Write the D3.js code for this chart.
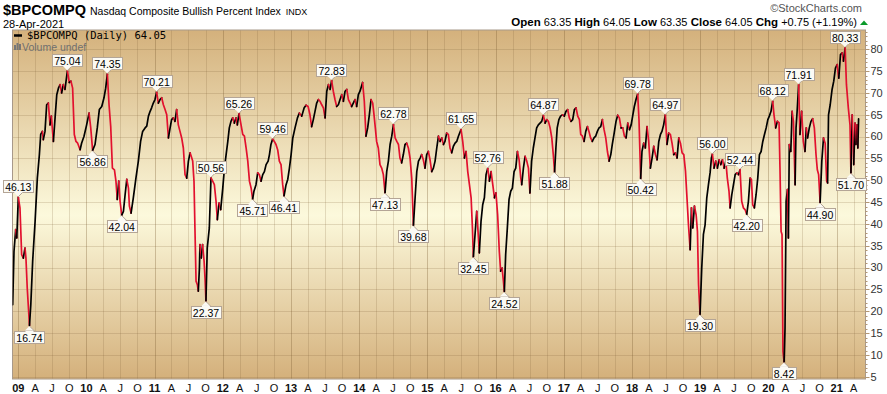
<!DOCTYPE html>
<html>
<head>
<meta charset="utf-8">
<script src="https://cdn.jsdelivr.net/npm/d3@7"></script>
<style>
  body { margin: 0; background: #fff; }
  svg { display: block; font-family: "Liberation Sans", Arial, sans-serif; }
</style>
</head>
<body>
<div id="chart"></div>
<script>
// $BPCOMPQ readings
const dates = [
  '2008-12-02','2008-12-09','2008-12-18','2008-12-24','2009-01-01','2009-01-10','2009-01-19','2009-01-28','2009-02-06','2009-02-11',
  '2009-02-18','2009-03-02','2009-03-09','2009-03-19','2009-04-01','2009-04-13','2009-04-24','2009-05-01','2009-05-10','2009-05-15',
  '2009-05-24','2009-06-02','2009-06-11','2009-06-20','2009-06-27','2009-07-08','2009-07-17','2009-07-26','2009-08-04','2009-08-13',
  '2009-08-21','2009-08-30','2009-09-08','2009-09-21','2009-10-01','2009-10-10','2009-10-19','2009-10-28','2009-11-06','2009-11-15',
  '2009-11-28','2009-12-06','2009-12-19','2010-01-02','2010-01-15','2010-01-24','2010-02-03','2010-02-16','2010-02-28','2010-03-11',
  '2010-03-24','2010-04-05','2010-04-14','2010-04-23','2010-05-02','2010-05-11','2010-05-20','2010-05-31','2010-06-08','2010-06-15',
  '2010-06-23','2010-06-30','2010-07-09','2010-07-18','2010-07-27','2010-08-05','2010-08-14','2010-08-19','2010-08-28','2010-09-09',
  '2010-09-23','2010-10-06','2010-10-18','2010-10-29','2010-11-11','2010-11-20','2010-11-29','2010-12-08','2010-12-16','2010-12-25',
  '2011-01-03','2011-01-12','2011-01-21','2011-01-30','2011-02-08','2011-02-17','2011-02-26','2011-03-07','2011-03-16','2011-03-25',
  '2011-04-02','2011-04-11','2011-04-20','2011-04-29','2011-05-08','2011-05-17','2011-05-26','2011-06-04','2011-06-13','2011-06-22',
  '2011-07-01','2011-07-10','2011-07-19','2011-07-24','2011-07-31','2011-08-05','2011-08-11','2011-08-18','2011-08-23','2011-08-29',
  '2011-09-01','2011-09-08','2011-09-15','2011-09-23','2011-09-28','2011-10-03','2011-10-10','2011-10-21','2011-10-30','2011-11-08',
  '2011-11-17','2011-11-26','2011-12-03','2011-12-12','2011-12-21','2012-01-01','2012-01-10','2012-01-19','2012-01-28','2012-02-05',
  '2012-02-14','2012-02-23','2012-03-03','2012-03-12','2012-03-19','2012-03-28','2012-04-08','2012-04-17','2012-04-26','2012-05-05',
  '2012-05-14','2012-05-23','2012-06-01','2012-06-09','2012-06-16','2012-06-27','2012-07-06','2012-07-15','2012-07-24','2012-08-02',
  '2012-08-11','2012-08-20','2012-08-31','2012-09-07','2012-09-15','2012-09-24','2012-10-03','2012-10-12','2012-10-21','2012-10-30',
  '2012-11-08','2012-11-17','2012-11-24','2012-12-05','2012-12-14','2012-12-23','2013-01-01','2013-01-10','2013-01-22','2013-02-04',
  '2013-02-14','2013-02-27','2013-03-12','2013-03-22','2013-04-02','2013-04-12','2013-04-21','2013-04-30','2013-05-09','2013-05-18',
  '2013-05-27','2013-06-05','2013-06-14','2013-06-23','2013-07-02','2013-07-11','2013-07-20','2013-07-29','2013-08-06','2013-08-15',
  '2013-08-24','2013-09-02','2013-09-11','2013-09-20','2013-09-29','2013-10-08','2013-10-17','2013-10-26','2013-11-04','2013-11-13',
  '2013-11-21','2013-11-30','2013-12-09','2013-12-18','2013-12-27','2014-01-05','2014-01-19','2014-01-28','2014-02-06','2014-02-15',
  '2014-02-24','2014-03-05','2014-03-14','2014-03-21','2014-03-28','2014-04-04','2014-04-13','2014-04-22','2014-05-01','2014-05-10',
  '2014-05-19','2014-05-28','2014-06-06','2014-06-15','2014-06-24','2014-07-03','2014-07-12','2014-07-21','2014-07-30','2014-08-07',
  '2014-08-16','2014-08-25','2014-09-03','2014-09-12','2014-09-21','2014-09-30','2014-10-09','2014-10-18','2014-10-27','2014-11-05',
  '2014-11-14','2014-11-23','2014-12-01','2014-12-10','2014-12-19','2014-12-28','2015-01-06','2015-01-15','2015-01-24','2015-02-02',
  '2015-02-11','2015-02-20','2015-03-01','2015-03-10','2015-03-19','2015-03-28','2015-04-05','2015-04-14','2015-04-23','2015-05-02',
  '2015-05-11','2015-05-20','2015-05-29','2015-06-07','2015-06-16','2015-06-30','2015-07-09','2015-07-18','2015-07-27','2015-08-05',
  '2015-08-14','2015-08-23','2015-08-30','2015-09-04','2015-09-13','2015-09-22','2015-09-29','2015-10-06','2015-10-15','2015-10-24',
  '2015-11-02','2015-11-11','2015-11-20','2015-11-29','2015-12-08','2015-12-17','2015-12-26','2016-01-03','2016-01-12','2016-01-21',
  '2016-01-28','2016-02-05','2016-02-12','2016-02-17','2016-02-24','2016-03-04','2016-03-13','2016-03-22','2016-03-31','2016-04-09',
  '2016-04-18','2016-04-27','2016-05-06','2016-05-15','2016-05-20','2016-05-29','2016-06-07','2016-06-16','2016-06-25','2016-07-03',
  '2016-07-12','2016-07-21','2016-07-30','2016-08-08','2016-08-17','2016-08-26','2016-09-04','2016-09-13','2016-09-22','2016-10-01',
  '2016-10-10','2016-10-19','2016-10-28','2016-11-05','2016-11-12','2016-11-19','2016-11-26','2016-12-05','2016-12-14','2016-12-25',
  '2017-01-03','2017-01-12','2017-01-21','2017-01-30','2017-02-08','2017-02-17','2017-02-26','2017-03-07','2017-03-16','2017-03-25',
  '2017-04-01','2017-04-10','2017-04-19','2017-04-28','2017-05-07','2017-05-15','2017-05-24','2017-06-02','2017-06-11','2017-06-20',
  '2017-06-29','2017-07-08','2017-07-17','2017-07-26','2017-08-04','2017-08-13','2017-08-22','2017-08-31','2017-09-09','2017-09-17',
  '2017-09-26','2017-10-07','2017-10-16','2017-10-25','2017-11-03','2017-11-12','2017-11-21','2017-11-30','2017-12-09','2017-12-18',
  '2017-12-27','2018-01-04','2018-01-13','2018-01-22','2018-01-31','2018-02-07','2018-02-16','2018-02-23','2018-03-04','2018-03-13',
  '2018-03-22','2018-03-31','2018-04-09','2018-04-18','2018-04-27','2018-05-06','2018-05-15','2018-05-24','2018-06-02','2018-06-10',
  '2018-06-19','2018-06-28','2018-07-07','2018-07-16','2018-07-25','2018-08-03','2018-08-12','2018-08-21','2018-08-30','2018-09-08',
  '2018-09-17','2018-09-26','2018-10-05','2018-10-14','2018-10-23','2018-10-30','2018-11-08','2018-11-15','2018-11-22','2018-12-01',
  '2018-12-10','2018-12-17','2018-12-23','2018-12-31','2019-01-09','2019-01-18','2019-01-27','2019-02-05','2019-02-14','2019-02-23',
  '2019-03-02','2019-03-07','2019-03-16','2019-03-25','2019-04-03','2019-04-12','2019-04-21','2019-04-30','2019-05-09','2019-05-18',
  '2019-05-26','2019-06-04','2019-06-10','2019-06-19','2019-06-28','2019-07-07','2019-07-16','2019-07-25','2019-08-02','2019-08-11',
  '2019-08-20','2019-08-29','2019-09-07','2019-09-16','2019-09-25','2019-10-02','2019-10-09','2019-10-18','2019-10-27','2019-11-05',
  '2019-11-14','2019-11-23','2019-12-02','2019-12-11','2019-12-20','2019-12-29','2020-01-06','2020-01-15','2020-01-24','2020-01-31',
  '2020-02-09','2020-02-18','2020-02-27','2020-03-03','2020-03-09','2020-03-14','2020-03-19','2020-03-25','2020-03-30','2020-04-05',
  '2020-04-12','2020-04-17','2020-04-22','2020-04-30','2020-05-07','2020-05-14','2020-05-23','2020-05-28','2020-06-04','2020-06-11',
  '2020-06-18','2020-06-27','2020-07-06','2020-07-15','2020-07-22','2020-07-29','2020-08-07','2020-08-16','2020-08-25','2020-09-03',
  '2020-09-12','2020-09-19','2020-09-26','2020-10-04','2020-10-13','2020-10-22','2020-10-31','2020-11-08','2020-11-13','2020-11-18',
  '2020-11-27','2020-12-07','2020-12-16','2020-12-25','2021-01-03','2021-01-12','2021-01-21','2021-01-30','2021-02-06','2021-02-15',
  '2021-02-22','2021-03-04','2021-03-13','2021-03-18','2021-03-25','2021-04-02','2021-04-09','2021-04-14','2021-04-20','2021-04-24',
  '2021-04-28'
];

const values = [
  21.5,33.7,38.7,36.8,46.13,43.7,33,32.2,34.5,32.2,
  25.3,16.74,21.5,31.5,40.6,50.5,55.9,60.5,61.2,59.3,
  61.2,67.3,67.7,62.7,64.7,58.9,64.3,69.6,71.1,71.9,
  70,71.9,70.8,75.04,72.4,72.7,71.1,60.5,58.9,58.5,
  57,58.5,60.1,62.7,65.4,62,56.86,58.2,62,66.2,
  66.9,68.9,71.1,74.35,67.3,62.3,52.8,52.4,49.8,45.6,
  49.8,45.2,42.04,42.9,46.7,50.2,48.2,44.1,42.5,46,
  50.5,54.4,58.9,61.2,62,62.4,64.7,65.8,66.6,67.7,
  68.5,70.21,67.7,68.5,68.9,67.3,66.2,65,59.7,62,
  63.9,64.3,63.5,66.2,62.7,61.2,59.7,57.4,51.3,50.5,
  54.4,56.3,55.1,54.4,49.8,39.1,26.9,26.1,24.6,29.9,
  35.3,32.2,35.3,31.5,27.6,22.37,34.5,39.1,50.56,49.8,
  49,45.2,41,44.8,43.3,48.2,52.8,55.9,58.9,62,
  63.5,64.3,63.1,64.3,62.7,65.26,62.7,60.5,60.1,57.4,
  54.4,49.8,48.2,45.71,47.5,49,51.7,51.3,49.8,51.3,
  52,53.6,54.4,55.9,58.2,59.46,58.9,58.2,57,54.4,
  53.6,49,46.41,49,50.2,52.8,55.9,59.7,62,64.3,
  65.4,64.7,66.6,67.2,66.9,65,62.3,63.9,65.8,67.7,
  68.5,68.1,67.3,66.6,64.3,70.4,71.9,70.8,72.83,70.4,
  68.5,66.9,67.3,68.5,69.6,68.1,70.4,70.8,68.5,67.7,
  66.9,67.7,68.5,66.9,69.6,70.4,72.4,68.1,60.1,62,
  65,68.5,67.7,65,62,58.9,57.4,53.6,52.8,51.3,
  47.13,52,54.4,58.2,60.1,62.78,59.7,58.9,58.2,55.1,
  54,55.9,58.2,58.5,57.4,55.1,50.5,39.68,46,52,
  54.4,55.1,55.9,54.7,52.8,55.9,56.6,54.7,52,52.8,
  54.4,57.4,60.1,58.9,59.7,58.2,58.9,60.8,60.5,57.4,
  56.3,57.8,58.5,58.9,60.1,61.65,58.9,55.1,56.6,52,
  49,46,39.1,32.45,37.6,42.9,38.3,33.4,40.6,44.4,
  46,51.3,52.76,49.8,52,49,46,47.1,42.1,33.7,
  29.2,29.9,26.9,24.52,33,39.1,45.6,47.5,48.2,52,
  52.8,56.6,54.7,50.5,49,52.8,55.5,54.4,52.8,47.1,
  54.4,57.4,59.7,62,62.7,63.1,63.5,64.87,63.1,63.9,
  63.5,62,59.7,55.9,51.88,57.4,62,63.9,64.7,65,
  64.7,65.8,66.2,64.3,63.5,63.9,66.2,66.6,64.7,63.9,
  60.5,60.1,58.9,61.2,62.3,61.2,59.7,58.9,59.7,60.1,
  61.2,62,62.3,63.9,61.6,59.7,56.6,54.4,55.9,58.2,
  60.5,63.5,64.9,64.3,62,62,60.1,59.7,63.1,61.6,
  62.7,64.7,66.9,68.5,69.78,63.9,50.42,56.6,58.5,57.4,
  62.3,58.9,52.8,55.1,57.8,55.9,54.7,58.9,60.5,61.2,
  62.7,64.97,58.2,60.8,60.5,58.5,55.9,56.3,55.1,59.7,
  58.5,56.3,55.9,52.1,45.2,39.8,34.1,43.7,39.1,44.1,
  42.1,38.3,26.1,19.30,29.9,37.6,39.8,46,49,51.8,
  55.2,56.00,52.8,54.4,52.8,54.7,53.6,54.7,52.8,54.4,
  50.5,47.5,43.7,46.7,49,51.3,51.7,51.3,52.44,45.2,
  43.7,43.3,42.20,45.2,50.5,50.2,44.4,43.7,46.7,50.5,
  55.9,56.6,58.9,60.5,62,63.9,64.7,65.8,68.12,65,
  62,63.5,63.2,52.8,38.3,37.6,10.8,8.42,16.2,45.2,
  47.9,36.8,58.2,56.6,65.8,63.5,49,62,66.6,71.91,
  60.5,65.8,58.9,56.6,62,59.7,62,63.5,64.1,62,
  55.9,52.4,51.3,44.90,54.4,59.7,58.5,49.8,49.4,65,
  67.3,70.8,72.7,75.7,76.5,73.4,78.8,79.2,77.3,80.33,
  71.9,66.6,62.7,51.70,65,53.6,63.1,58.2,62.7,57.4,
  64.05
];

// labelled highs and lows
const markDates = [
  '2009-01-01','2009-03-02','2009-09-21','2010-02-03','2010-04-23','2010-07-09','2011-01-12','2011-10-30','2011-10-03',
  '2012-03-28','2012-06-09','2012-09-24','2012-11-24','2013-08-06','2014-07-03','2014-05-19','2014-10-18','2015-06-30',
  '2015-11-20','2015-09-04','2016-02-17','2016-09-13','2016-11-12','2018-01-31','2018-02-16','2018-06-28','2018-12-31',
  '2019-03-07','2019-08-02','2019-09-07','2020-01-24','2020-03-25','2020-06-11','2020-10-04','2021-02-15','2021-03-18'
];
const markTypes = [
  'hi','lo','hi','lo','hi','lo','hi','hi','lo',
  'hi','lo','hi','lo','hi','hi','lo','lo','hi',
  'hi','lo','lo','hi','lo','hi','lo','hi','lo',
  'hi','hi','lo','hi','lo','hi','lo','hi','lo'
];

const yTicks = [5, 10, 15, 20, 25, 30, 35, 40, 45, 50, 55, 60, 65, 70, 75, 80];
const quarterLabels = ['', 'A', 'J', 'O'];

const title = '$BPCOMPQ';
const subtitle = 'Nasdaq Composite Bullish Percent Index';
const exchange = 'INDX';
const dateText = '28-Apr-2021';
const ohlc = [['Open', '63.35'], ['High', '64.05'], ['Low', '63.35'], ['Close', '64.05'], ['Chg', '+0.75 (+1.19%)']];

const width = 887, height = 394;
const plot = { left: 12.5, right: 865.5, top: 30, bottom: 379 };
const RED = '#e2102e';

const parse = d3.timeParse('%Y-%m-%d');
const data = dates.map((d, i) => ({ date: parse(d), value: values[i] }));

const x = d3.scaleTime()
  .domain([parse('2008-12-01'), parse('2021-06-04')])
  .range([plot.left, plot.right]);
const y = d3.scaleLinear().domain([4.5, 84.42]).range([plot.bottom, plot.top]);

const svg = d3.select('#chart').append('svg')
  .attr('width', width).attr('height', height);

const defs = svg.append('defs');
const grad = defs.append('linearGradient').attr('id', 'bg')
  .attr('x1', 0).attr('y1', 0).attr('x2', 0).attr('y2', 1);
grad.append('stop').attr('offset', '0%').attr('stop-color', '#d4b17c');
grad.append('stop').attr('offset', '53%').attr('stop-color', '#fcf9dc');
grad.append('stop').attr('offset', '100%').attr('stop-color', '#d4b07b');
defs.append('clipPath').attr('id', 'clip').append('rect')
  .attr('x', plot.left).attr('y', plot.top)
  .attr('width', plot.right - plot.left).attr('height', plot.bottom - plot.top);

svg.append('rect')
  .attr('x', plot.left).attr('y', plot.top)
  .attr('width', plot.right - plot.left).attr('height', plot.bottom - plot.top)
  .attr('fill', 'url(#bg)');

// grid
const quarters = x.ticks(d3.timeMonth.every(3));
svg.append('g').selectAll('line').data(yTicks).join('line')
  .attr('x1', plot.left).attr('x2', plot.right)
  .attr('y1', d => Math.round(y(d)) + 0.5).attr('y2', d => Math.round(y(d)) + 0.5)
  .attr('stroke', 'rgba(125,95,55,0.2)');
svg.append('g').selectAll('line').data(quarters).join('line')
  .attr('x1', d => Math.round(x(d)) + 0.5).attr('x2', d => Math.round(x(d)) + 0.5)
  .attr('y1', plot.top).attr('y2', plot.bottom)
  .attr('stroke', d => d.getMonth() === 0 ? 'rgba(120,90,50,0.33)' : 'rgba(125,95,55,0.2)');

// plot frame
svg.append('rect')
  .attr('x', plot.left).attr('y', plot.top)
  .attr('width', plot.right - plot.left).attr('height', plot.bottom - plot.top)
  .attr('fill', 'none').attr('stroke', '#a8998a');

// right axis with minor ticks
const yAxis = svg.append('g').attr('transform', `translate(${plot.right},0)`);
yAxis.selectAll('line.minor').data(d3.range(5, 85)).join('line')
  .attr('class', 'minor')
  .attr('x1', 0).attr('x2', d => yTicks.includes(d) ? 4 : 2)
  .attr('y1', d => Math.round(y(d)) + 0.5).attr('y2', d => Math.round(y(d)) + 0.5)
  .attr('stroke', '#b39672');
yAxis.selectAll('text').data(yTicks).join('text')
  .attr('x', 5).attr('y', d => y(d))
  .attr('dy', '0.35em')
  .attr('font-size', 11).attr('fill', '#333')
  .text(d => d);

// bottom axis
svg.append('g').selectAll('text').data(quarters).join('text')
  .attr('x', d => x(d)).attr('y', 392)
  .attr('text-anchor', 'middle')
  .attr('font-size', 11)
  .attr('font-weight', d => d.getMonth() === 0 ? 'bold' : 'normal')
  .attr('fill', '#111')
  .text(d => d.getMonth() === 0 ? d3.timeFormat('%y')(d) : quarterLabels[d.getMonth() / 3]);

// line coloured by direction: up black, down red
const runs = [];
for (let i = 1; i < data.length; i++) {
  const up = data[i].value >= data[i - 1].value;
  const last = runs[runs.length - 1];
  if (last && last.up === up) last.pts.push(data[i]);
  else runs.push({ up, pts: [data[i - 1], data[i]] });
}
const line = d3.line().x(d => x(d.date)).y(d => y(d.value));
svg.append('g').attr('clip-path', 'url(#clip)')
  .selectAll('path').data(runs).join('path')
  .attr('d', d => line(d.pts))
  .attr('fill', 'none')
  .attr('stroke', d => d.up ? '#000' : RED)
  .attr('stroke-width', 1.7)
  .attr('stroke-linejoin', 'round')
  .attr('stroke-linecap', 'round');

// high / low callouts
const marks = markDates.map((d, i) => {
  const k = dates.indexOf(d);
  return { date: data[k].date, value: values[k], type: markTypes[i] };
});
const callouts = svg.append('g');
marks.forEach(m => {
  const px = x(m.date), py = y(m.value);
  const g = callouts.append('g');
  const t = g.append('text')
    .attr('font-size', 10.5).attr('fill', '#000')
    .attr('text-anchor', 'middle')
    .text(m.value.toFixed(2));
  const w = t.node().getComputedTextLength() + 4;
  const h = 12;
  const boxY = m.type === 'hi' ? py - 5 - h : py + 5;
  const tip = m.type === 'hi'
    ? [[px - 5, py - 5.5], [px + 5, py - 5.5], [px, py - 0.5]]
    : [[px - 5, py + 5.5], [px + 5, py + 5.5], [px, py + 0.5]];
  g.insert('path', 'text')
    .attr('d', d3.line()(tip))
    .attr('fill', '#fbfaf4').attr('stroke', '#b4a596');
  g.insert('rect', 'text')
    .attr('x', Math.round(px - w / 2) + 0.5).attr('y', Math.round(boxY) + 0.5)
    .attr('width', Math.round(w)).attr('height', h)
    .attr('fill', '#fbfaf4').attr('stroke', '#b4a596');
  g.append('path')
    .attr('d', d3.line()(m.type === 'hi'
      ? [[px - 4, Math.round(boxY) + h + 0.5], [px + 4, Math.round(boxY) + h + 0.5]]
      : [[px - 4, Math.round(boxY) + 0.5], [px + 4, Math.round(boxY) + 0.5]]))
    .attr('stroke', '#fbfaf4').attr('stroke-width', 1);
  t.attr('x', px).attr('y', Math.round(boxY) + 10.5);
});

// legend inside plot
svg.append('line')
  .attr('x1', 14).attr('x2', 22).attr('y1', 35.5).attr('y2', 35.5)
  .attr('stroke', '#000').attr('stroke-width', 2.5);
svg.append('text')
  .attr('x', 27).attr('y', 38.5)
  .attr('font-family', '"DejaVu Sans Mono", monospace')
  .attr('font-size', 10.5).attr('fill', '#000')
  .text(`${title} (Daily) ${values[values.length - 1].toFixed(2)}`);
const volIcon = svg.append('g').attr('fill', '#777');
[[14, 45, 2, 5], [16.5, 43, 2, 7], [19, 44, 2, 6]].forEach(([bx, by, bw, bh]) => {
  volIcon.append('rect').attr('x', bx).attr('y', by).attr('width', bw).attr('height', bh);
});
svg.append('text')
  .attr('x', 22).attr('y', 51)
  .attr('font-size', 10.5).attr('fill', '#6f6f6f')
  .text('Volume undef');

// header
svg.append('text')
  .attr('x', 3).attr('y', 15)
  .attr('font-size', 14.5).attr('font-weight', 'bold').attr('fill', '#000')
  .text(title);
const sub = svg.append('text')
  .attr('x', 90).attr('y', 15)
  .attr('font-size', 10.5).attr('fill', '#000')
  .text(subtitle);
svg.append('text')
  .attr('x', 90 + sub.node().getComputedTextLength() + 5).attr('y', 15)
  .attr('font-size', 9).attr('fill', '#000')
  .text(exchange);
svg.append('text')
  .attr('x', 3).attr('y', 28)
  .attr('font-size', 11).attr('fill', '#000')
  .text(dateText);
svg.append('text')
  .attr('x', 862).attr('y', 12)
  .attr('text-anchor', 'end')
  .attr('font-size', 11).attr('fill', '#555')
  .text('\u00A9StockCharts.com');

const quote = svg.append('text')
  .attr('x', 857).attr('y', 26)
  .attr('text-anchor', 'end')
  .attr('font-size', 11).attr('fill', '#000');
ohlc.forEach(([label, val], i) => {
  quote.append('tspan').attr('font-weight', 'bold').attr('font-size', 11.5)
    .text((i ? '  ' : '') + label);
  quote.append('tspan').text(' ' + val);
});
svg.append('path')
  .attr('d', d3.line()([[860, 25], [868, 25], [864, 20.5]]))
  .attr('fill', '#0a9a2a');
</script>
</body>
</html>
